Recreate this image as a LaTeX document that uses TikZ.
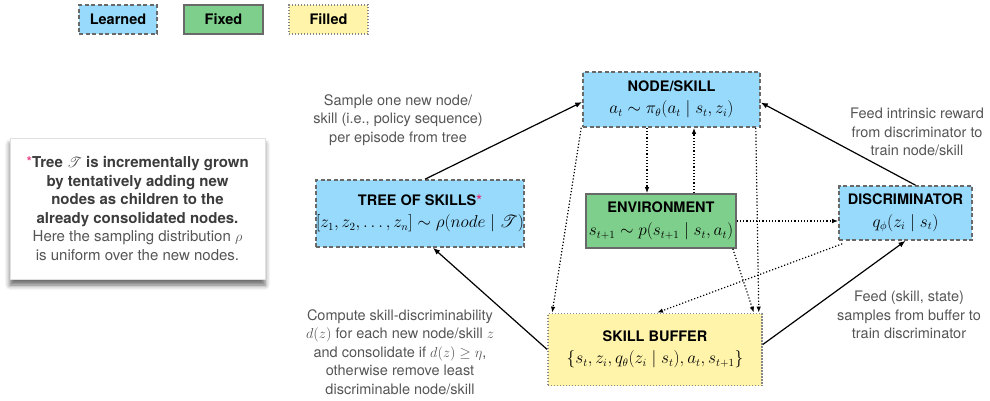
\documentclass[tikz,border=0pt]{standalone}
\usepackage[no-math]{fontspec}
\setmainfont{TeX Gyre Heros}
\usepackage{amsmath,mathrsfs}
\usetikzlibrary{arrows.meta,shadows.blur}

\definecolor{learnfill}{RGB}{152,218,252}
\definecolor{fixfill}{RGB}{126,207,139}
\definecolor{fillfill}{RGB}{255,244,170}
\definecolor{rimgray}{RGB}{105,105,105}
\definecolor{labgray}{RGB}{85,85,85}
\definecolor{notegray}{RGB}{60,60,60}
\definecolor{starpink}{RGB}{226,48,120}

\newcommand\boxfont{\fontsize{14.5}{18.5}\selectfont}
\newcommand\fm[1]{{\fontsize{16}{18.5}\selectfont$#1$}}

\begin{document}
\begin{tikzpicture}[x=1pt,y=-1pt,>={Latex[length=7pt,width=5.5pt]},
  box/.style={align=center,inner sep=0pt,font=\boxfont,text=black},
  learned/.style={box,draw=rimgray,line width=1.6pt,dash pattern=on 4pt off 2.5pt,fill=learnfill},
  fixed/.style={box,draw=rimgray,line width=1.6pt,fill=fixfill},
  filled/.style={box,draw=rimgray!80,line width=1.6pt,dash pattern=on 1.4pt off 1.6pt,fill=fillfill},
  lab/.style={align=center,font=\boxfont,text=labgray},
  flow/.style={->,line width=1.2pt},
  dots/.style={-{Latex[length=6pt,width=4.5pt]},line width=1.2pt,dash pattern=on 1.2pt off 2pt}]
\useasboundingbox (0,0) rectangle (990,400);

% legend
\node[learned,minimum width=78pt,minimum height=29pt] (L) at (118,19.5) {\textbf{Learned}};
\node[fixed,minimum width=79pt,minimum height=29pt] (F) at (223.5,19.5) {\textbf{Fixed}};
\node[filled,minimum width=79pt,minimum height=29pt] (Fl) at (328.5,19.5) {\textbf{Filled}};

% side note on the tree
\node[draw=black!12,line width=0.5pt,fill=white,align=center,minimum width=255pt,minimum height=141pt,
  font=\fontsize{15}{18.5}\selectfont,text=notegray,
  blur shadow={shadow xshift=0pt,shadow yshift=-6pt,shadow blur radius=5pt,shadow opacity=60}] (note) at (137.5,208.5)
  {\textcolor{starpink}{*}\textbf{Tree $\mathscr{T}$ is incrementally grown}\\
   \textbf{by tentatively adding new}\\
   \textbf{nodes as children to the}\\
   \textbf{already consolidated nodes.}\\
   \textcolor{labgray}{Here the sampling distribution $\rho$}\\
   \textcolor{labgray}{is uniform over the new nodes.}};

% main blocks
\node[learned,minimum width=177pt,minimum height=55pt] (N) at (671.5,99.5)
  {\textbf{NODE/SKILL}\\[4pt]\fm{a_t \sim \pi_\theta(a_t \mid s_t, z_i)}};
\node[learned,minimum width=208pt,minimum height=67pt] (T) at (420,213.5)
  {\textbf{TREE OF SKILLS\textcolor{starpink}{*}}\\[4pt]\fm{[z_1, z_2, \ldots, z_n] \sim \rho(node \mid \mathscr{T})}};
\node[fixed,minimum width=150pt,minimum height=54pt] (E) at (661,221)
  {\textbf{ENVIRONMENT}\\[4pt]\fm{s_{t+1} \sim p(s_{t+1} \mid s_t, a_t)}};
\node[learned,minimum width=133pt,minimum height=54pt] (D) at (905.5,213)
  {\textbf{DISCRIMINATOR}\\[4pt]\fm{q_\phi(z_i \mid s_t)}};
\node[filled,minimum width=214pt,minimum height=72pt] (B) at (655,349.5)
  {\textbf{SKILL BUFFER}\\[4pt]\fm{\{s_t, z_i, q_\theta(z_i \mid s_t), a_t, s_{t+1}\}}};

% labels
\node[lab] (sampleLab) at (398,120) {Sample one new node/\\skill (i.e., policy sequence)\\per episode from tree};
\node[lab] (rewardLab) at (917,132) {Feed intrinsic reward\\from discriminator to\\train node/skill};
\node[lab] (feedLab) at (909,315) {Feed (skill, state)\\samples from buffer to\\train discriminator};
\node[lab] (computeLab) at (400,352) {Compute skill-discriminability\\$d(z)$ for each new node/skill $z$\\and consolidate if $d(z) \geq \eta$,\\otherwise remove least\\discriminable node/skill};

% solid arrows
\draw[flow] ([xshift=5pt]T.north) -- ([yshift=-2.5pt]N.west);
\draw[flow] ([xshift=10pt]D.north) -- ([yshift=-3pt]N.east);
\draw[flow] (B.west) -- ([xshift=13pt]T.south);
\draw[flow] ([yshift=5pt]B.east) -- (D.south);

% dotted arrows
\draw[dots] ([xshift=-24.5pt]N.south) -- ([xshift=-14pt]E.north);
\draw[dots] ([xshift=33pt]E.north) -- ([xshift=22.5pt]N.south);
\draw[dots] ([xshift=-1pt]N.south west) -- ([xshift=5pt]B.north west);
\draw[dots] ([xshift=-5pt]N.south east) -- ([xshift=-4pt]B.north east);
\draw[dots] ([xshift=-4pt]E.south east) -- ([xshift=-9pt]B.north east);
\draw[dots] ([xshift=4pt,yshift=-3pt]D.south west) -- ([xshift=2pt]B.north);
\draw[dots] (E.east) -- (E.east -| D.west);
\end{tikzpicture}
\end{document}
